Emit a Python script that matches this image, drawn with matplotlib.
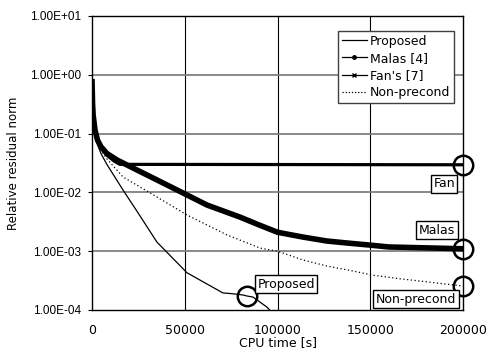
import numpy as np
import matplotlib
matplotlib.use('Agg')
import matplotlib.pyplot as plt
from matplotlib.lines import Line2D
from matplotlib.ticker import FuncFormatter, FixedLocator

plt.rcParams['font.family'] = ['DejaVu Sans']

# 데이터
prop_x = [0, 300, 600, 1600, 3000, 4800, 8000, 16700, 25000, 35000, 43000, 51200, 60000, 70600, 75000, 81400, 83500, 86800, 94300, 96500]
prop_y = [0.85, 0.33, 0.21, 0.11, 0.065, 0.046, 0.03, 0.011, 0.0044, 0.00143, 0.00079, 0.00043, 0.00030, 0.000195, 0.00019, 0.00018, 0.000173, 0.000166, 0.000112, 0.000095]

malas_x = [0, 300, 600, 1600, 3000, 4800, 8000, 13500, 22100, 35000, 49000, 62000, 79800, 90000, 100000, 113700, 126600, 137400, 149800, 160000, 175000, 200000]
malas_y = [0.85, 0.33, 0.21, 0.115, 0.077, 0.06, 0.046, 0.0356, 0.026, 0.0163, 0.0098, 0.0061, 0.0038, 0.0028, 0.0021, 0.00174, 0.00149, 0.00138, 0.00127, 0.00118, 0.00115, 0.0011]

fan_x = [0, 300, 600, 1600, 3000, 4800, 8000, 12000, 15000, 200000]
fan_y = [0.85, 0.33, 0.21, 0.115, 0.077, 0.06, 0.043, 0.034, 0.0300, 0.0295]

nonp_x = [0, 300, 600, 1600, 3000, 4800, 8100, 16700, 31300, 51200, 72800, 90600, 100000, 113700, 126600, 140700, 151500, 166000, 200000]
nonp_y = [0.85, 0.33, 0.21, 0.113, 0.07, 0.052, 0.037, 0.0183, 0.0098, 0.00413, 0.00189, 0.00113, 0.0010, 0.00071, 0.00056, 0.00046, 0.00039, 0.00034, 0.000256]

legend_labels = ['Proposed', 'Malas [4]', "Fan's [7]", 'Non-precond']
x_ticks = [0, 50000, 100000, 150000, 200000]
y_ticks = [1e-4, 1e-3, 1e-2, 1e-1, 1e0, 1e1]

fig = plt.figure(figsize=(4.86, 3.58), dpi=100)
ax = fig.add_axes([92/486, 1-310/358, 371/486, 294/358])

# 곡선
ax.plot(prop_x, prop_y, color='black', lw=0.9)
ax.plot(malas_x, malas_y, color='black', lw=4.0, solid_capstyle='butt', solid_joinstyle='round')
ax.plot(fan_x, fan_y, color='black', lw=2.3, solid_capstyle='butt')
ax.plot(nonp_x, nonp_y, color='black', lw=0.9, ls=(0, (1, 2)))

ax.set_yscale('log')
ax.set_xlim(0, 200000)
ax.set_ylim(1e-4, 1e1)
ax.xaxis.set_major_locator(FixedLocator(x_ticks))
ax.yaxis.set_major_locator(FixedLocator(y_ticks))
ax.yaxis.set_minor_locator(FixedLocator([]))
ax.yaxis.set_major_formatter(FuncFormatter(lambda v, p: '%.2E' % v))
ax.xaxis.set_major_formatter(FuncFormatter(lambda v, p: '%d' % v))
ax.tick_params(axis='x', length=0, labelsize=9, pad=10)
ax.tick_params(axis='y', length=3, direction='out', pad=5)
for t in ax.get_yticklabels():
    t.set_fontfamily('Liberation Sans')
    t.set_fontsize(8.5)

# 그리드
for xv in x_ticks[1:-1]:
    ax.axvline(xv, color='black', lw=0.8, zorder=0)
for yv in y_ticks[1:-1]:
    ax.axhline(yv, color='#808080', lw=1.3, zorder=0)
for s in ax.spines.values():
    s.set_linewidth(1.0)

ax.set_xlabel('CPU time [s]', fontsize=9)
ax.set_ylabel('Relative residual norm', fontsize=8.5)
ax.xaxis.set_label_coords(0.5, -0.09)
ax.yaxis.set_label_coords(-0.194, 0.5)

# 범례
handles = [
    Line2D([], [], color='black', lw=0.9),
    Line2D([], [], color='black', lw=0.9, marker='o', markersize=2.5),
    Line2D([], [], color='black', lw=0.9, marker='x', markersize=2.5, mew=1),
    Line2D([], [], color='black', lw=0.9, ls=(0, (1, 1.5))),
]
leg = ax.legend(handles, legend_labels, loc='upper right', bbox_to_anchor=(0.976, 0.949),
                fontsize=9, fancybox=False, framealpha=1, edgecolor='#404040',
                handlelength=2.0, handletextpad=0.25, labelspacing=0.33, borderpad=0.3,
                borderaxespad=0)
leg.get_frame().set_linewidth(1.0)

# 원 표시
circ = dict(marker='o', markersize=14, mfc='none', mec='black', mew=1.8, clip_on=False, zorder=5)
ax.plot(fan_x[-1], fan_y[-1], **circ)
ax.plot(malas_x[-1], malas_y[-1], **circ)
ax.plot(nonp_x[-1], nonp_y[-1], **circ)
ax.plot(prop_x[16], prop_y[16], **circ)

# 라벨 박스
box = dict(boxstyle='square,pad=0.2', fc='white', ec='black', lw=1.0)
ax.text(0.949, 0.429, 'Fan', transform=ax.transAxes, ha='center', va='center', fontsize=9, bbox=box, zorder=6)
ax.text(0.930, 0.272, 'Malas', transform=ax.transAxes, ha='center', va='center', fontsize=9, bbox=box, zorder=6)
ax.text(0.873, 0.037, 'Non-precond', transform=ax.transAxes, ha='center', va='center', fontsize=9, bbox=box, zorder=6)
ax.text(0.523, 0.088, 'Proposed', transform=ax.transAxes, ha='center', va='center', fontsize=9, bbox=box, zorder=6)

fig.savefig('out.png', dpi=100)
